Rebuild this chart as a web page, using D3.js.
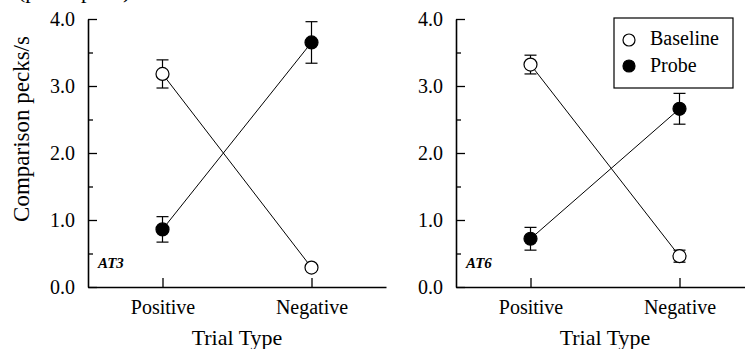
<!DOCTYPE html>
<html>
<head>
<meta charset="utf-8">
<script src="https://cdn.jsdelivr.net/npm/d3@7"></script>
<style>
    body { margin: 0; background: #fff; }
</style>
</head>
<body>
<svg id="chart" width="745" height="349"></svg>
<script>
// chart data
var categories = ["Positive", "Negative"];
var panels = ["AT3", "AT6"];
var seriesNames = ["Baseline", "Probe"];
var yMajorTicks = [0, 1, 2, 3, 4];
var yMinorTicks = [0.5, 1.5, 2.5, 3.5];

// means per panel, Positive then Negative
var baselineMeans = [[3.18, 0.29], [3.32, 0.46]];
var baselineErr = [[0.21, 0.04], [0.14, 0.09]];
var probeMeans = [[0.86, 3.65], [0.72, 2.66]];
var probeErr = [[0.19, 0.31], [0.17, 0.23]];

var serif = "'Liberation Serif', 'Times New Roman', Times, serif";
var svg = d3.select("#chart");

var plotTop = 19, plotBottom = 287, plotWidth = 298;
var panelLeft = [88, 456];

var y = d3.scaleLinear().domain([0, 4]).range([plotBottom, plotTop]);
var x = d3.scalePoint().domain(categories).range([0, plotWidth]).padding(0.5);

// cut-off caption line from the page above
svg.append("text")
    .attr("x", 18).attr("y", -2)
    .style("font-size", "22px")
    .text("(pecks per s)");

// y axis title
svg.append("text")
    .attr("transform", "translate(29," + 129 + ") rotate(-90)")
    .attr("text-anchor", "middle")
    .style("font-size", "23px")
    .text("Comparison pecks/s");

panels.forEach(function(name, p) {
    var g = svg.append("g").attr("transform", "translate(" + panelLeft[p] + ",0)");

    // axes (ticks point inward)
    var yAxis = g.append("g")
        .call(d3.axisLeft(y).tickValues(yMajorTicks).tickFormat(d3.format(".1f"))
            .tickSizeInner(-9).tickSizeOuter(0).tickPadding(13));
    g.append("g")
        .call(d3.axisLeft(y).tickValues(yMinorTicks).tickFormat("")
            .tickSizeInner(-5).tickSizeOuter(0))
        .select(".domain").remove();
    var xAxis = g.append("g")
        .attr("transform", "translate(0," + plotBottom + ")")
        .call(d3.axisBottom(x).tickSizeInner(-9).tickSizeOuter(0).tickPadding(13));

    [yAxis, xAxis].forEach(function(a) {
        a.selectAll("text").style("font-size", "20px");
        a.select(".domain").attr("stroke-width", 1.6);
    });
    g.selectAll(".tick line").attr("stroke-width", 1.3);

    g.append("text")
        .attr("x", plotWidth / 2).attr("y", 345)
        .attr("text-anchor", "middle")
        .style("font-size", "22px")
        .text("Trial Type");

    g.append("text")
        .attr("x", 10).attr("y", 268)
        .style("font-size", "15px")
        .style("font-weight", "bold")
        .style("font-style", "italic")
        .text(name);

    var series = [
        { means: baselineMeans[p], err: baselineErr[p], fill: "#fff" },
        { means: probeMeans[p], err: probeErr[p], fill: "#000" }
    ];

    series.forEach(function(s) {
        var pts = categories.map(function(c, i) {
            return { cat: c, v: s.means[i], e: s.err[i] };
        });

        g.append("path")
            .datum(pts)
            .attr("fill", "none")
            .attr("stroke", "#000")
            .attr("stroke-width", 1)
            .attr("d", d3.line().x(function(d) { return x(d.cat); }).y(function(d) { return y(d.v); }));

        var eb = g.append("g").attr("stroke", "#000").attr("stroke-width", 1.2);
        eb.selectAll("line.v").data(pts).enter().append("line")
            .attr("x1", function(d) { return x(d.cat); })
            .attr("x2", function(d) { return x(d.cat); })
            .attr("y1", function(d) { return y(d.v - d.e); })
            .attr("y2", function(d) { return y(d.v + d.e); });
        [1, -1].forEach(function(sign) {
            eb.selectAll(null).data(pts).enter().append("line")
                .attr("x1", function(d) { return x(d.cat) - 6; })
                .attr("x2", function(d) { return x(d.cat) + 6; })
                .attr("y1", function(d) { return y(d.v + sign * d.e); })
                .attr("y2", function(d) { return y(d.v + sign * d.e); });
        });

        g.selectAll(null).data(pts).enter().append("circle")
            .attr("cx", function(d) { return x(d.cat); })
            .attr("cy", function(d) { return y(d.v); })
            .attr("r", 6.5)
            .attr("fill", s.fill)
            .attr("stroke", "#000")
            .attr("stroke-width", 1.2);
    });
});

// legend on the right panel
var legend = svg.append("g").attr("transform", "translate(614,18)");
legend.append("rect")
    .attr("width", 119).attr("height", 70)
    .attr("fill", "#fff").attr("stroke", "#000").attr("stroke-width", 1.2);
seriesNames.forEach(function(n, i) {
    legend.append("circle")
        .attr("cx", 15).attr("cy", 22 + i * 26).attr("r", 6)
        .attr("fill", i === 0 ? "#fff" : "#000")
        .attr("stroke", "#000").attr("stroke-width", 1.2);
    legend.append("text")
        .attr("x", 36).attr("y", 27 + i * 27)
        .style("font-size", "20px")
        .text(n);
});

// every label in the serif face
svg.selectAll("text").style("font-family", serif).attr("fill", "#000");
</script>
</body>
</html>
